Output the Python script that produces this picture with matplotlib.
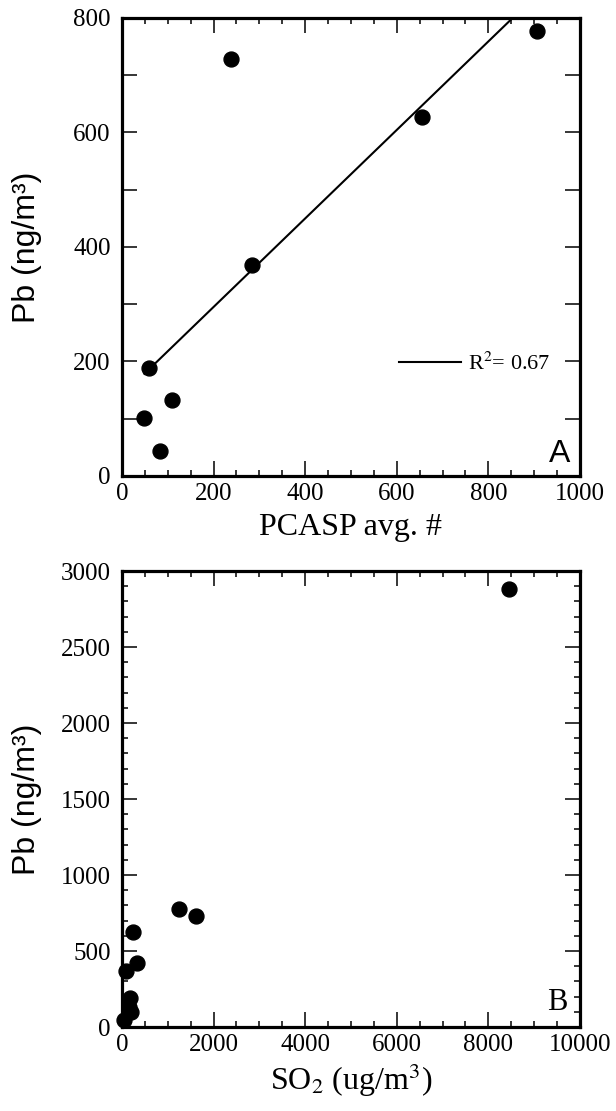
import numpy as np
import matplotlib.pyplot as plt
from matplotlib.ticker import MultipleLocator

plt.rcParams['font.family'] = ['Liberation Serif', 'DejaVu Serif']
plt.rcParams['mathtext.fontset'] = 'stix'

# panel A: PCASP vs Pb
pcasp = [49, 59, 82, 110, 238, 283, 655, 907]
pb_a = [101, 188, 44, 132, 729, 369, 627, 777]
yticks_a = [0, 100, 200, 300, 400, 500, 600, 700, 800]
ylabels_a = ['0', '', '200', '', '400', '', '600', '', '800']

# panel B: SO2 vs Pb
so2 = [34, 94, 180, 150, 205, 248, 325, 1250, 1618, 8459]
pb_b = [44, 369, 188, 132, 101, 627, 424, 777, 729, 2880]

fig = plt.figure(figsize=(6.16, 11.11), dpi=100)
axA = fig.add_axes([0.198, 0.5716, 0.7435, 0.4122])
axB = fig.add_axes([0.198, 0.0756, 0.7435, 0.4104])


def style(ax):
    for s in ax.spines.values():
        s.set_linewidth(2.3)
    ax.tick_params(which='both', direction='in', top=True, right=True,
                   labelsize=18, width=1.1)
    ax.tick_params(which='major', length=11)
    ax.tick_params(which='minor', length=4.5)
    ax.tick_params(axis='x', pad=5)
    ax.tick_params(axis='y', pad=8)


# --- A ---
axA.scatter(pcasp, pb_a, s=115, color='black', zorder=3)
slope, icpt = np.polyfit(pcasp, pb_a, 1)
r2 = np.corrcoef(pcasp, pb_a)[0, 1] ** 2
xs = np.array([min(pcasp), max(pcasp)])
axA.plot(xs, slope * xs + icpt, color='black', lw=1.5,
         label=r'R$^2$= %.2f' % r2)
axA.set_xlim(0, 1000)
axA.set_ylim(0, 800)
axA.xaxis.set_major_locator(MultipleLocator(200))
axA.xaxis.set_minor_locator(MultipleLocator(50))
axA.set_yticks(yticks_a)
axA.set_yticklabels(ylabels_a)
style(axA)
axA.tick_params(axis='y', which='major', length=10.5)
axA.set_xlabel('PCASP avg. #', fontsize=23, labelpad=6)
axA.set_ylabel('Pb (ng/m³)', fontsize=23, family='Liberation Sans')
axA.yaxis.set_label_coords(-0.175, 0.5)
axA.legend(loc='center left', bbox_to_anchor=(0.605, 0.245), frameon=False,
           borderaxespad=0, borderpad=0, fontsize=16,
           handlelength=2.8, handletextpad=0.3)
axA.text(0.98, 0.03, 'A', transform=axA.transAxes, ha='right', va='baseline',
         fontsize=23, family='Liberation Sans')

# --- B ---
axB.scatter(so2, pb_b, s=115, color='black', zorder=3, clip_on=False)
axB.set_xlim(0, 10000)
axB.set_ylim(0, 3000)
axB.xaxis.set_major_locator(MultipleLocator(2000))
axB.xaxis.set_minor_locator(MultipleLocator(500))
axB.yaxis.set_major_locator(MultipleLocator(500))
axB.yaxis.set_minor_locator(MultipleLocator(100))
style(axB)
axB.set_xlabel(r'SO$_2$ (ug/m$^3$)', fontsize=23, labelpad=4)
axB.set_ylabel('Pb (ng/m³)', fontsize=23, family='Liberation Sans')
axB.yaxis.set_label_coords(-0.175, 0.5)
axB.text(0.973, 0.037, 'B', transform=axB.transAxes, ha='right', va='baseline',
         fontsize=22)

fig.savefig('out.png', dpi=100)
